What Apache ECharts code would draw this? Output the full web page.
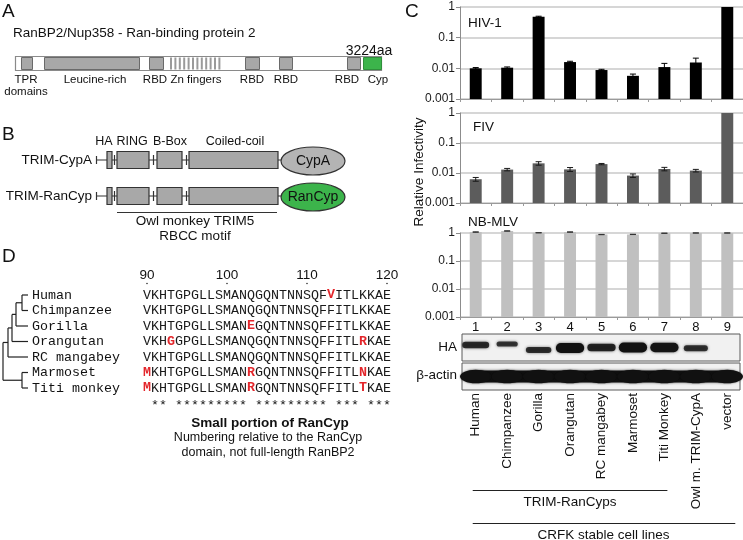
<!DOCTYPE html>
<html><head><meta charset="utf-8">
<script src="https://cdn.jsdelivr.net/npm/echarts@6/dist/echarts.min.js"></script>
<style>html,body{margin:0;padding:0;background:#fff}#c{width:743px;height:540px}</style>
</head><body><div id="c"></div>
<script>
// ---------------- data ----------------
const lanes = ['1','2','3','4','5','6','7','8','9'];
const cellLines = ['Human','Chimpanzee','Gorilla','Orangutan','RC mangabey','Marmoset','Titi Monkey','Owl m. TRIM-CypA','vector'];
const hivValues = [0.0100,0.0105,0.48,0.0160,0.0088,0.0057,0.0110,0.0155,1.0];
const hivErrors = [0.0006,0.0006,0.02,0.0010,0.0005,0.0008,0.0035,0.0060,0];
const fivValues = [0.0062,0.0130,0.0210,0.0132,0.0198,0.0082,0.0136,0.0120,1.0];
const fivErrors = [0.0009,0.0012,0.0028,0.0020,0.0010,0.0011,0.0018,0.0012,0];
const mlvValues = [1.08,1.18,1.02,1.08,0.88,0.89,0.98,1.0,1.0];
const mlvErrors = [0.02,0.02,0.01,0.02,0.01,0.01,0.01,0.01,0.01];
const yTickLabels = ['0.001','0.01','0.1','1'];
const haSignal = [0.45,0.25,0.4,1.0,0.6,1.0,0.9,0.35,0];
const haMobility = [-1,-1.4,1,0.2,0,0,0,0.3,0];
const actinSignal = [1,1,1,1,1,1,1,1,1];
const species = ['Human','Chimpanzee','Gorilla','Orangutan','RC mangabey','Marmoset','Titi monkey'];
const sequences = [
  'VKHTGPGLLSMANQGQNTNNSQFVITLKKAE',
  'VKHTGPGLLSMANQGQNTNNSQFFITLKKAE',
  'VKHTGPGLLSMANEGQNTNNSQFFITLKKAE',
  'VKHGGPGLLSMANQGQNTNNSQFFITLRKAE',
  'VKHTGPGLLSMANQGQNTNNSQFFITLKKAE',
  'MKHTGPGLLSMANRGQNTNNSQFFITLNKAE',
  'MKHTGPGLLSMANRGQNTNNSQFFITLTKAE'
];
const seqNumbers = [90,100,110,120];
const seqStart = 90;

// ---------------- style ----------------
const FONT = "'Liberation Sans', Arial, Helvetica, sans-serif";
const MONO = "'Liberation Mono', 'Courier New', monospace";
const chart = echarts.init(document.getElementById('c'));

const gridDefs = [
  {left:460, right:0, top:7, height:92},
  {left:460, right:0, top:113, height:90},
  {left:460, right:0, top:233, height:84},
  {left:460, right:0, top:333, height:57}
];

function logYAxis(gi){
  return {gridIndex:gi, type:'log', logBase:10, min:0.001, max:1,
    axisLine:{show:true, lineStyle:{color:'#8c8c8c', width:1}},
    axisTick:{show:true, length:4, lineStyle:{color:'#8c8c8c'}},
    axisLabel:{fontSize:12, fontFamily:FONT, color:'#1a1a1a', margin:5,
      formatter:v=>yTickLabels[Math.round(Math.log10(v))+3]},
    splitLine:{show:true, lineStyle:{color:'#c9c9c9', width:1.5}}};
}
function catXAxis(gi, showLabels){
  return {gridIndex:gi, type:'category', data:lanes, boundaryGap:true,
    axisLine:{show:true, lineStyle:{color:'#9a9a9a'}},
    axisTick:{show:true, length:3, lineStyle:{color:'#9a9a9a'}},
    axisLabel:{show:showLabels, fontSize:13, fontFamily:FONT, color:'#111', margin:4, interval:0}};
}
function barSeries(gi, vals, errs, fill, errColor){
  return {type:'custom', xAxisIndex:gi, yAxisIndex:gi, clip:false, z:3,
    encode:{x:0, y:1},
    data: vals.map((v,i)=>[i, v, errs[i]]),
    renderItem(params, api){
      const i=api.value(0), v=api.value(1), e=api.value(2);
      const cs=params.coordSys;
      const base=cs.y+cs.height;
      const p=api.coord([i, v]);
      const w=cs.width/lanes.length*0.38;
      const ch=[{type:'rect', shape:{x:p[0]-w/2, y:p[1], width:w, height:base-p[1]}, style:{fill:fill}}];
      if(e>0){
        const t=api.coord([i, v+e])[1], b=api.coord([i, v-e])[1];
        const hw=3, st={stroke:errColor, lineWidth:1};
        ch.push({type:'line', shape:{x1:p[0], y1:t, x2:p[0], y2:b}, style:st});
        ch.push({type:'line', shape:{x1:p[0]-hw, y1:t, x2:p[0]+hw, y2:t}, style:st});
        ch.push({type:'line', shape:{x1:p[0]-hw, y1:b, x2:p[0]+hw, y2:b}, style:st});
      }
      return {type:'group', children:ch};
    }};
}
const blotSeries = {type:'custom', xAxisIndex:3, yAxisIndex:3, clip:false, z:3,
  encode:{x:0, y:1},
  data: lanes.map((l,i)=>[i, 0.5, haSignal[i], haMobility[i], actinSignal[i]]),
  renderItem(params, api){
    const cs=params.coordSys;
    const i=api.value(0), s=api.value(2), m=api.value(3), a=api.value(4);
    const cx=api.coord([i, 0.5])[0];
    const bw=cs.width/lanes.length;
    const haTop=cs.y+1, haH=27, acTop=cs.y+30, acH=27;
    const ch=[];
    if(params.dataIndex===0){
      ch.push({type:'rect', shape:{x:cs.x+2, y:haTop, width:cs.width-5, height:haH}, style:{fill:'#f1f1f1', stroke:'#5a5a5a', lineWidth:1}});
      ch.push({type:'rect', shape:{x:cs.x+2, y:acTop, width:cs.width-5, height:acH}, style:{fill:'#f1f1f1', stroke:'#5a5a5a', lineWidth:1}});
      ch.push({type:'rect', shape:{x:cs.x+6, y:acTop+acH/2-6, width:cs.width-14, height:12, r:6}, style:{fill:'#111', shadowBlur:3, shadowColor:'rgba(0,0,0,0.55)'}});
    }
    if(s>0){
      const w=bw*(0.45+0.45*Math.min(1, s*2));
      const h=3.5+6.5*s;
      const cy=haTop+haH/2+m*2.5;
      ch.push({type:'rect', shape:{x:cx-w/2, y:cy-h/2, width:w, height:h, r:h/2},
        style:{fill:'#111', opacity:0.7+0.3*s, shadowBlur:3, shadowColor:'rgba(0,0,0,0.6)'}});
    }
    if(a>0){
      ch.push({type:'ellipse', shape:{cx:cx, cy:acTop+acH/2, rx:bw*0.5, ry:6.8*a}, style:{fill:'#111', shadowBlur:2, shadowColor:'rgba(0,0,0,0.5)'}});
    }
    return {type:'group', children:ch};
  }};

chart.setOption({
  animation:false,
  backgroundColor:'#fff',
  grid: gridDefs,
  xAxis: [catXAxis(0,false), catXAxis(1,false), catXAxis(2,true),
    {gridIndex:3, type:'category', data:cellLines, boundaryGap:true,
     axisLine:{show:false}, axisTick:{show:false},
     axisLabel:{rotate:90, margin:3, fontSize:13.5, fontFamily:FONT, color:'#111', interval:0}}],
  yAxis: [logYAxis(0), logYAxis(1), logYAxis(2),
    {gridIndex:3, type:'value', min:0, max:1, show:false}],
  series: [
    barSeries(0, hivValues, hivErrors, '#000000', '#000000'),
    barSeries(1, fivValues, fivErrors, '#5c5c5c', '#1a1a1a'),
    barSeries(2, mlvValues, mlvErrors, '#c0c0c0', '#333333'),
    blotSeries
  ]
});

// ---------------- annotations / schematic panels ----------------
function T(str,x,y,size,align,opts){
  opts=opts||{};
  return {type:'text', x:x, y:y, rotation:opts.rot||0, silent:true, z:10,
    style:{text:str, fontSize:size, fontFamily:opts.font||FONT, fontWeight:opts.bold?'bold':'normal',
      fill:opts.color||'#111', align:align||'left', textAlign:align||'left',
      verticalAlign:'middle', textVerticalAlign:'middle'}};
}
function R(x,y,w,h,fill,stroke,lw){
  return {type:'rect', silent:true, z:9, shape:{x:x,y:y,width:w,height:h}, style:{fill:fill, stroke:stroke||null, lineWidth:lw||1}};
}
function L(x1,y1,x2,y2,stroke,lw){
  return {type:'line', silent:true, z:9, shape:{x1:x1,y1:y1,x2:x2,y2:y2}, style:{stroke:stroke||'#222', lineWidth:lw||1}};
}
function E(cx,cy,rx,ry,fill,stroke){
  return {type:'ellipse', silent:true, z:9, shape:{cx:cx,cy:cy,rx:rx,ry:ry}, style:{fill:fill, stroke:stroke, lineWidth:1.2}};
}
const G=[];
const boxGray='#a8a8a8', boxStroke='#6a6a6a', green='#3cb44b';

// Panel A
G.push(T('A',2,12,19,'left'));
G.push(T('RanBP2/Nup358 - Ran-binding protein 2',13,33,13.5,'left'));
G.push(T('3224aa',369,51,14,'center'));
G.push(R(15.5,56.5,366,14,'#ffffff','#8a8a8a',1.2));
[[21,11],[44,95],[149,14],[245,14],[279,13],[347,13]].forEach(d=>G.push(R(d[0]+0.5,57.5,d[1],12,boxGray,boxStroke,1)));
for(let k=0;k<12;k++){ G.push(R(170+k*4.4,57.5,2,12,'#9a9a9a',null)); }
G.push(R(363.5,57.5,18,12,green,'#2f8f3b',1));
[['TPR',26],['Leucine-rich',95],['RBD',155],['Zn fingers',196],['RBD',252],['RBD',286],['RBD',347],['Cyp',378]].forEach(d=>G.push(T(d[0],d[1],80,11.5,'center')));
G.push(T('domains',26,92,11.5,'center'));

// Panel B
G.push(T('B',2,135,19,'left'));
G.push(T('HA',104,142,12.5,'center'));
G.push(T('RING',132,142,12.5,'center'));
G.push(T('B-Box',170,142,12.5,'center'));
G.push(T('Coiled-coil',235,142,12.5,'center'));
function trimRow(cy, label, ellFill, ellText){
  G.push(T(label,92,cy,13.5,'right'));
  G.push(L(96,cy,282,cy,'#333',1.2));
  G.push(L(96.5,cy-4,96.5,cy+4,'#333',1.2));
  G.push(R(107,cy-8.5,5,17,boxGray,'#333',1.2));
  G.push(L(114.5,cy-5,114.5,cy+5,'#333',1.2));
  G.push(R(117,cy-8.5,32,17,boxGray,'#333',1.2));
  G.push(L(153.5,cy-5,153.5,cy+5,'#333',1.2));
  G.push(R(157,cy-8.5,25,17,boxGray,'#333',1.2));
  G.push(L(186.5,cy-5,186.5,cy+5,'#333',1.2));
  G.push(R(189,cy-8.5,89,17,boxGray,'#333',1.2));
  G.push(E(313,cy+1,32,14,ellFill,'#333'));
  G.push(T(ellText,313,cy+1,14,'center'));
}
trimRow(160,'TRIM-CypA','#b4b4b4','CypA');
trimRow(196,'TRIM-RanCyp',green,'RanCyp');
G.push(L(117,212.5,277,212.5,'#333',1));
G.push(T('Owl monkey TRIM5',195,221,13.5,'center'));
G.push(T('RBCC motif',195,236,13.5,'center'));

// Panel D
G.push(T('D',2,257,19,'left'));
const colW=8, seqX=143, rowY0=295, rowDy=15.5;
seqNumbers.forEach(n=>{
  const cx=seqX+(n-seqStart)*colW+colW/2;
  G.push(T(String(n),cx,275,13.5,'center'));
  G.push({type:'circle', silent:true, z:9, shape:{cx:cx,cy:283.5,r:0.8}, style:{fill:'#333'}});
});
const nCols=sequences[0].length;
const consensus=[], conserved=[];
for(let c=0;c<nCols;c++){
  const cnt={};
  sequences.forEach(s=>{cnt[s[c]]=(cnt[s[c]]||0)+1;});
  const best=Object.keys(cnt).sort((a,b)=>cnt[b]-cnt[a])[0];
  consensus.push(best);
  conserved.push(Object.keys(cnt).length===1);
}
species.forEach((sp,r)=>{
  const y=rowY0+r*rowDy;
  G.push(T(sp,32,y,13.33,'left',{font:MONO}));
  for(let c=0;c<nCols;c++){
    const ch=sequences[r][c];
    const diff=ch!==consensus[c];
    G.push(T(ch,seqX+c*colW+colW/2,y,13.33,'center',{font:MONO, bold:diff, color:diff?'#e3262b':'#1a1a1a'}));
  }
});
for(let c=0;c<nCols;c++){
  if(conserved[c]) G.push(T('*',seqX+c*colW+colW/2,405,13.33,'center',{font:MONO}));
}
G.push(T('Small portion of RanCyp',270,423,13.5,'center',{bold:true}));
G.push(T('Numbering relative to the RanCyp',268,438,12.5,'center'));
G.push(T('domain, not full-length RanBP2',268,453,12.5,'center'));
// tree
const ry=k=>rowY0+k*rowDy;
const tw='#222', tl=1.2;
const nHC=(ry(0)+ry(1))/2, nG=(nHC+ry(2))/2, nO=(nG+ry(3))/2, nR=(nO+ry(4))/2, nMT=(ry(5)+ry(6))/2;
G.push(L(22,ry(0),28,ry(0),tw,tl), L(22,ry(1),28,ry(1),tw,tl), L(22,ry(0),22,ry(1),tw,tl), L(16,nHC,22,nHC,tw,tl));
G.push(L(16,nHC,16,ry(2),tw,tl), L(16,ry(2),28,ry(2),tw,tl), L(12,nG,16,nG,tw,tl));
G.push(L(12,nG,12,ry(3),tw,tl), L(12,ry(3),28,ry(3),tw,tl), L(8,nO,12,nO,tw,tl));
G.push(L(8,nO,8,ry(4),tw,tl), L(8,ry(4),28,ry(4),tw,tl), L(3,nR,8,nR,tw,tl));
G.push(L(22,ry(5),28,ry(5),tw,tl), L(22,ry(6),28,ry(6),tw,tl), L(22,ry(5),22,ry(6),tw,tl), L(3,nMT,22,nMT,tw,tl));
G.push(L(3,nR,3,nMT,tw,tl));

// Panel C annotations
G.push(T('C',405,12,19,'left'));
G.push(T('HIV-1',468,23,13.5,'left'));
G.push(T('FIV',473,127,13.5,'left'));
G.push(T('NB-MLV',468,222,13.5,'left'));
G.push(T('Relative Infectivity',419,172,13.5,'center',{rot:Math.PI/2}));
G.push(T('HA',457,347,13.5,'right'));
G.push(T('\u03b2-actin',457,375,13.5,'right'));
const lx=i=>chart.convertToPixel({xAxisIndex:3}, i);
G.push(L(lx(0)-3,490.5,lx(6)+3,490.5,'#222',1.2));
G.push(T('TRIM-RanCyps',(lx(0)+lx(6))/2,502,13.5,'center'));
G.push(L(lx(0)-3,523.5,lx(8)+8,523.5,'#222',1.2));
G.push(T('CRFK stable cell lines',(lx(0)+lx(8))/2+2,535,13.5,'center'));

chart.setOption({graphic:G});
</script>
</body></html>
